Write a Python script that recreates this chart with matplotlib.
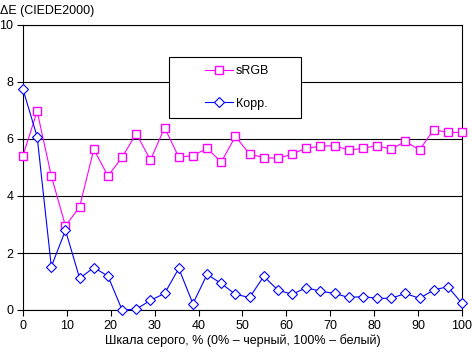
import numpy as np
import matplotlib
matplotlib.use("Agg")
import matplotlib.pyplot as plt
import matplotlib.patches as patches

plt.rcParams["font.family"] = ["Liberation Sans", "DejaVu Sans"]

gray_pct = np.linspace(0, 100, 32)
srgb = [5.42, 6.97, 4.70, 2.95, 3.62, 5.64, 4.70, 5.36, 6.19, 5.26, 6.40, 5.36,
        5.42, 5.67, 5.19, 6.09, 5.47, 5.35, 5.32, 5.47, 5.68, 5.74, 5.77, 5.61,
        5.67, 5.77, 5.64, 5.92, 5.61, 6.33, 6.23, 6.23]
korr = [7.74, 6.08, 1.52, 2.80, 1.11, 1.49, 1.19, 0.00, 0.03, 0.34, 0.58, 1.46,
        0.22, 1.25, 0.93, 0.55, 0.44, 1.18, 0.70, 0.55, 0.78, 0.66, 0.58, 0.44,
        0.47, 0.41, 0.41, 0.58, 0.41, 0.70, 0.82, 0.23]
x_ticks = list(range(0, 101, 10))
y_ticks = [0, 2, 4, 6, 8, 10]

fig = plt.figure(figsize=(4.72, 3.53), dpi=100)
ax = fig.add_axes([23 / 472, 1 - 310 / 353, 439 / 472, 285 / 353])

ax.plot(gray_pct, srgb, color="#FF00FF", lw=0.8, marker="s", ms=5.5,
        mfc="white", mec="#FF00FF", mew=1.0, label="sRGB", clip_on=False, zorder=3)
ax.plot(gray_pct, korr, color="#0000FF", lw=0.8, marker="D", ms=5,
        mfc="white", mec="#0000FF", mew=0.8, label="Корр.", clip_on=False, zorder=3)

ax.set_xlim(0, 100)
ax.set_ylim(0, 10)
ax.set_xticks(x_ticks)
ax.set_yticks(y_ticks)
ax.tick_params(direction="out", length=4, width=0.8, labelsize=9, colors="black", pad=3)
ax.yaxis.grid(True, color="black", lw=0.8)
ax.set_axisbelow(True)
for s in ax.spines.values():
    s.set_color("black")
    s.set_linewidth(0.8)

ax.set_xlabel("Шкала серого, % (0% – черный, 100% – белый)", fontsize=9, labelpad=2)
fig.text(0, 1 - 11 / 353, "ΔE (CIEDE2000)", fontsize=9, va="center", ha="left")

# legend box drawn separately, entries centred inside it
box = patches.Rectangle((169 / 472, 1 - 118 / 353), 132 / 472, 61 / 353,
                        transform=fig.transFigure, facecolor="white",
                        edgecolor="black", lw=0.8, zorder=4)
ax.add_artist(box)
box.set_clip_on(False)
leg = ax.legend(loc="center", bbox_to_anchor=(237 / 472, 1 - 87.5 / 353),
                bbox_transform=fig.transFigure, fontsize=9, frameon=False,
                labelspacing=1.6, handlelength=2.2, handletextpad=0.25,
                borderpad=0, borderaxespad=0)
leg.set_zorder(5)

fig.savefig("out.png", dpi=100)
